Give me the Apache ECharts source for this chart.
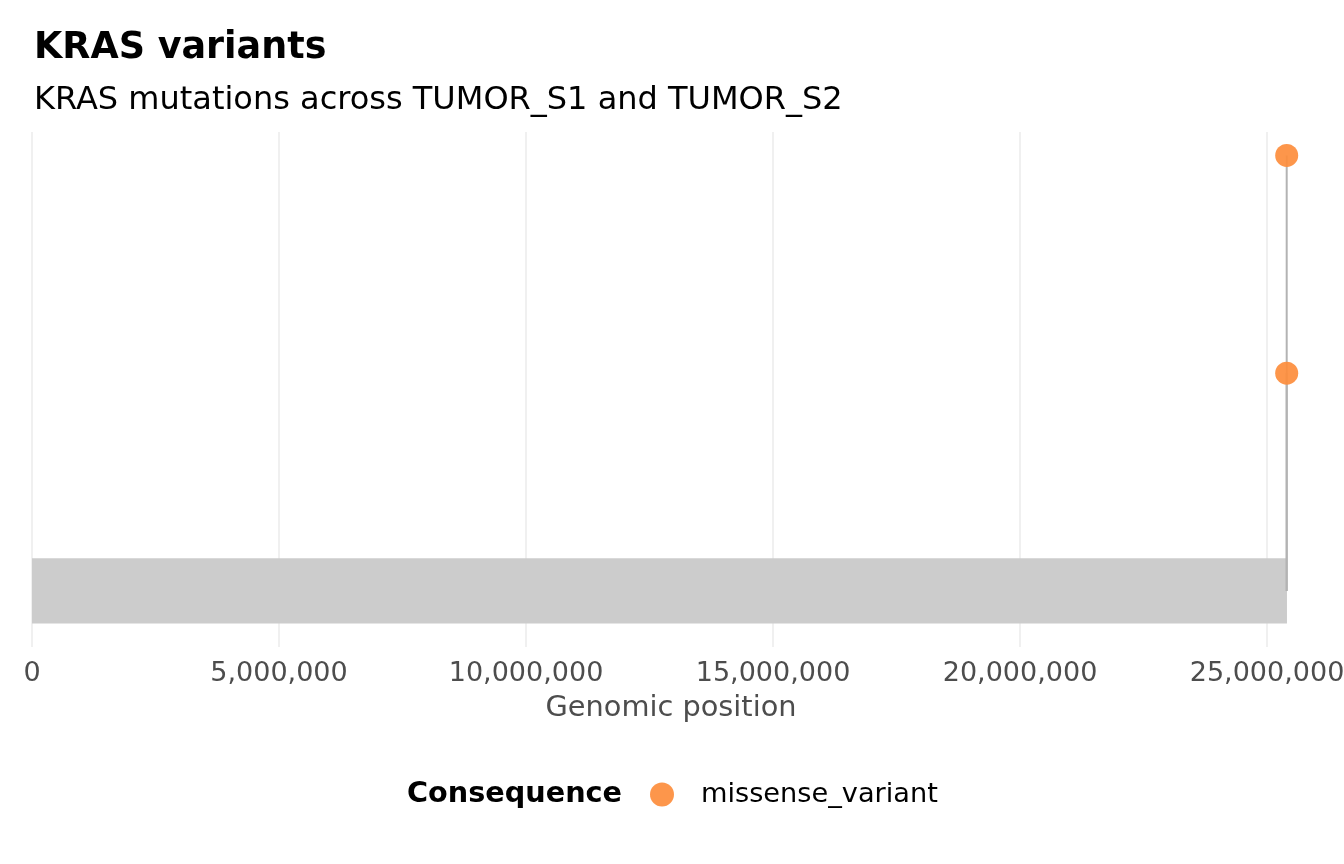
<!DOCTYPE html>
<html>
<head>
<meta charset="utf-8">
<script src="https://cdn.jsdelivr.net/npm/echarts@6/dist/echarts.min.js"></script>
<style>
  html, body { margin: 0; padding: 0; background: #fff; }
  #chart { width: 1344px; height: 864px; }
</style>
</head>
<body>
<div id="chart"></div>
<script>
// gene region drawn as the grey bar
const geneRegion = [0, 25403870];
const geneHalfHeight = 0.15;

// variants: position, lollipop height, consequence
const variantPos = [25398284, 25398284];
const variantHeight = [2, 1];
const variantConsequence = ['missense_variant', 'missense_variant'];

const xTicks = [0, 5000000, 10000000, 15000000, 20000000, 25000000];

const font = 'DejaVu Sans';
const orange = '#FD8D3C';

let points = variantPos.map((p, i) => [p, variantHeight[i], variantConsequence[i]]);

let myChart = echarts.init(document.getElementById('chart'));
let option = {
    backgroundColor: '#fff',
    animation: false,
    title: [
        {
            text: 'KRAS variants',
            left: 29, top: 25,
            textStyle: { fontFamily: font, fontSize: 36.5, fontWeight: 'bold', color: '#000' }
        },
        {
            text: 'KRAS mutations across TUMOR_S1 and TUMOR_S2',
            left: 29, top: 80,
            textStyle: { fontFamily: font, fontSize: 32, fontWeight: 'normal', color: '#000' }
        },
        {
            text: 'Consequence',
            left: 402, top: 775,
            textStyle: { fontFamily: font, fontSize: 28.7, fontWeight: 'bold', color: '#000' }
        }
    ],
    legend: {
        data: ['missense_variant'],
        left: 645, top: 776,
        icon: 'circle',
        itemWidth: 24, itemHeight: 24,
        textStyle: { fontFamily: font, fontSize: 27.2, color: '#000', padding: [0, 0, 0, 22] }
    },
    grid: { left: 32, right: 34, top: 132, height: 515, outerBoundsMode: 'none' },
    xAxis: {
        type: 'value',
        min: 0, max: 25870000, interval: 5000000,
        name: 'Genomic position',
        nameLocation: 'middle',
        nameGap: 47,
        nameTextStyle: { fontFamily: font, fontSize: 28.8, color: '#4D4D4D' },
        axisLine: { show: false },
        axisTick: { show: false },
        axisLabel: {
            fontFamily: font, fontSize: 27, color: '#4D4D4D', margin: 13,
            formatter: v => xTicks.indexOf(v) >= 0 ? v.toLocaleString('en-US') : ''
        },
        splitLine: { show: false }
    },
    yAxis: {
        type: 'value',
        min: -0.2575, max: 2.1075,
        show: false,
        splitLine: { show: false }
    },
    series: [
        {
            // vertical gridlines at the major ticks, under everything else
            name: 'grid',
            type: 'line',
            data: [],
            z: 0,
            markLine: {
                z: 0,
                silent: true,
                symbol: 'none',
                label: { show: false },
                lineStyle: { color: '#EBEBEB', width: 1.5, type: 'solid' },
                data: xTicks.map(t => ({ xAxis: t }))
            }
        },
        {
            name: 'gene',
            type: 'custom',
            data: [[geneRegion[0], geneRegion[1]]],
            renderItem: (params, api) => {
                let a = api.coord([api.value(0), geneHalfHeight]);
                let b = api.coord([api.value(1), -geneHalfHeight]);
                return {
                    type: 'rect',
                    shape: { x: a[0], y: a[1], width: b[0] - a[0], height: b[1] - a[1] },
                    style: { fill: '#CCCCCC' }
                };
            },
            z: 10
        },
        {
            name: 'stems',
            type: 'custom',
            data: points,
            renderItem: (params, api) => {
                let top = api.coord([api.value(0), api.value(1)]);
                let base = api.coord([api.value(0), 0]);
                return {
                    type: 'line',
                    shape: { x1: base[0], y1: base[1], x2: top[0], y2: top[1] },
                    style: { stroke: '#B3B3B3', lineWidth: 2 }
                };
            },
            z: 11
        },
        {
            name: 'missense_variant',
            type: 'scatter',
            data: points,
            symbol: 'circle',
            symbolSize: 23,
            itemStyle: { color: orange, opacity: 0.92 },
            z: 12
        }
    ]
};
myChart.setOption(option);
</script>
</body>
</html>
